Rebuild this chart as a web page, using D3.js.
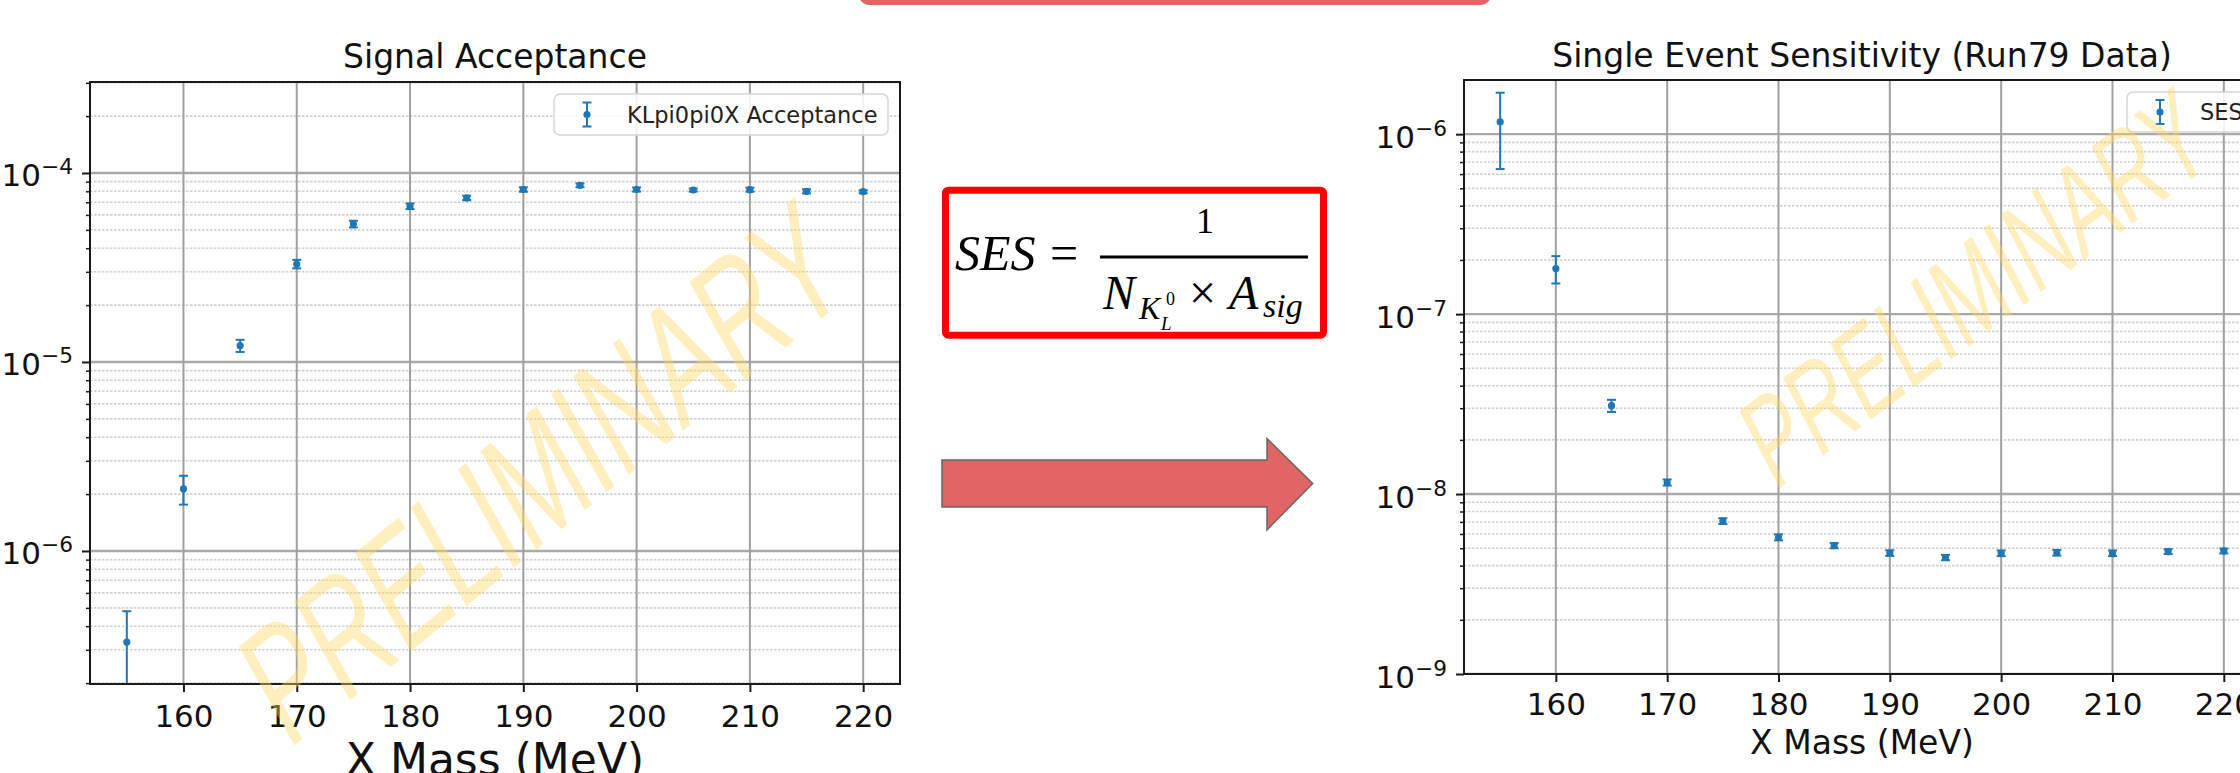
<!DOCTYPE html>
<html>
<head>
<meta charset="utf-8">
<script src="https://cdn.jsdelivr.net/npm/d3@7"></script>
<style>
  html, body { margin: 0; padding: 0; background: #ffffff; }
  svg { display: block; }
</style>
</head>
<body>
<svg id="chart" width="2240" height="773"></svg>
<script>
// ---- data -------------------------------------------------------------
const masses = [155, 160, 165, 170, 175, 180, 185, 190, 195, 200, 205, 210, 215, 220];

// KLpi0pi0X signal acceptance and its uncertainty
const acceptance    = [3.3e-7, 2.13e-6, 1.22e-5, 3.30e-5, 5.37e-5, 6.67e-5, 7.38e-5,
                       8.18e-5, 8.61e-5, 8.18e-5, 8.13e-5, 8.16e-5, 8.00e-5, 7.96e-5];
const acceptanceErr = [1.5e-7, 3.7e-7, 9.0e-7, 1.7e-6, 2.2e-6, 2.3e-6, 2.0e-6,
                       2.2e-6, 2.0e-6, 2.0e-6, 1.5e-6, 2.0e-6, 2.0e-6, 1.5e-6];

// single event sensitivity (Run79 data) and its uncertainty
const ses    = [1.17e-6, 1.79e-7, 3.10e-8, 1.16e-8, 7.08e-9, 5.75e-9, 5.17e-9,
                4.70e-9, 4.44e-9, 4.69e-9, 4.72e-9, 4.69e-9, 4.79e-9, 4.83e-9];
const sesErr = [5.3e-7, 3.1e-8, 2.4e-9, 4.5e-10, 2.6e-10, 2.2e-10, 1.7e-10,
                1.7e-10, 1.5e-10, 1.7e-10, 1.7e-10, 1.7e-10, 1.5e-10, 1.5e-10];

const xTickValues   = [160, 170, 180, 190, 200, 210, 220];
const accExponents  = [-6, -5, -4];
const sesExponents  = [-9, -8, -7, -6];

// ---- styling ----------------------------------------------------------
const BLUE = "#1f77b4";
const SANS = "'DejaVu Sans', Verdana, sans-serif";
const SERIF = "'Liberation Serif', 'Times New Roman', serif";
const MINUS = "\u2212";

const svg = d3.select("#chart");

function minorValues(domain) {
  const out = [];
  const lo = Math.floor(Math.log10(domain[0])), hi = Math.ceil(Math.log10(domain[1]));
  for (let e = lo; e <= hi; e++) {
    for (let k = 2; k <= 9; k++) {
      const v = k * Math.pow(10, e);
      if (v > domain[0] && v < domain[1]) out.push(v);
    }
  }
  return out;
}

function drawPanel(p) {
  const x = d3.scaleLinear().domain(p.xDomain).range([p.left, p.right]);
  const y = d3.scaleLog().domain(p.yDomain).range([p.bottom, p.top]);
  const majors = p.exponents.map(e => Math.pow(10, e));
  const minors = minorValues(p.yDomain);

  const g = svg.append("g");
  const clipId = "clip-" + p.id;
  g.append("clipPath").attr("id", clipId)
    .append("rect")
    .attr("x", p.left).attr("y", p.top)
    .attr("width", p.right - p.left).attr("height", p.bottom - p.top);

  g.append("rect")
    .attr("x", p.left).attr("y", p.top)
    .attr("width", p.right - p.left).attr("height", p.bottom - p.top)
    .attr("fill", "#ffffff");

  const grid = g.append("g").attr("clip-path", `url(#${clipId})`);
  // minor horizontal grid (dotted)
  grid.selectAll(".minor").data(minors).join("line")
    .attr("x1", p.left).attr("x2", p.right)
    .attr("y1", d => y(d)).attr("y2", d => y(d))
    .attr("stroke", "#cfcfcf").attr("stroke-width", 1.6)
    .attr("stroke-dasharray", "2.5,1.5");
  // major horizontal grid
  grid.selectAll(".major").data(majors).join("line")
    .attr("x1", p.left).attr("x2", p.right)
    .attr("y1", d => y(d)).attr("y2", d => y(d))
    .attr("stroke", "#a9a9a9").attr("stroke-width", 2.4);
  // vertical grid
  grid.selectAll(".vgrid").data(xTickValues).join("line")
    .attr("x1", d => x(d)).attr("x2", d => x(d))
    .attr("y1", p.top).attr("y2", p.bottom)
    .attr("stroke", "#a0a0a0").attr("stroke-width", 2);

  // error bars and markers
  const pts = g.append("g").attr("clip-path", `url(#${clipId})`);
  const rows = masses.map((m, i) => ({ m, v: p.values[i], e: p.errors[i] }));
  const cap = 4.5;
  const lowY = d => y(Math.max(d.v - d.e, p.yDomain[0] * 0.1));
  const item = pts.selectAll(".pt").data(rows).join("g");
  item.append("line")
    .attr("x1", d => x(d.m)).attr("x2", d => x(d.m))
    .attr("y1", lowY).attr("y2", d => y(d.v + d.e))
    .attr("stroke", BLUE).attr("stroke-width", 2);
  item.append("line")
    .attr("x1", d => x(d.m) - cap).attr("x2", d => x(d.m) + cap)
    .attr("y1", d => y(d.v + d.e)).attr("y2", d => y(d.v + d.e))
    .attr("stroke", BLUE).attr("stroke-width", 2);
  item.append("line")
    .attr("x1", d => x(d.m) - cap).attr("x2", d => x(d.m) + cap)
    .attr("y1", lowY).attr("y2", lowY)
    .attr("stroke", BLUE).attr("stroke-width", 2);
  item.append("circle")
    .attr("cx", d => x(d.m)).attr("cy", d => y(d.v)).attr("r", 3.6)
    .attr("fill", BLUE);

  // spines
  g.append("rect")
    .attr("x", p.left).attr("y", p.top)
    .attr("width", p.right - p.left).attr("height", p.bottom - p.top)
    .attr("fill", "none").attr("stroke", "#1a1a1a").attr("stroke-width", 2);

  // x axis
  const xAxis = g.append("g").attr("transform", `translate(0,${p.bottom})`)
    .call(d3.axisBottom(x).tickValues(xTickValues).tickSize(8).tickFormat(d3.format("d")));
  xAxis.select(".domain").remove();
  xAxis.selectAll(".tick line").attr("stroke", "#1a1a1a").attr("stroke-width", 2);
  xAxis.selectAll(".tick text")
    .attr("y", p.xLabelBaseline).attr("dy", null)
    .attr("fill", "#111").attr("font-family", SANS).attr("font-size", p.tickFont);

  // y axis: minor ticks
  const yMinor = g.append("g").attr("transform", `translate(${p.left},0)`)
    .call(d3.axisLeft(y).tickValues(minors).tickSize(4).tickFormat(() => ""));
  yMinor.select(".domain").remove();
  yMinor.selectAll(".tick line").attr("stroke", "#1a1a1a").attr("stroke-width", 1.5);

  // y axis: decade ticks with 10^n labels
  const yAxis = g.append("g").attr("transform", `translate(${p.left},0)`)
    .call(d3.axisLeft(y).tickValues(majors).tickSize(8).tickFormat(() => ""));
  yAxis.select(".domain").remove();
  yAxis.selectAll(".tick line").attr("stroke", "#1a1a1a").attr("stroke-width", 2);
  yAxis.selectAll(".tick text").remove();
  yAxis.selectAll(".tick").each(function (d) {
    const t = d3.select(this).append("text")
      .attr("x", -17).attr("y", 13)
      .attr("text-anchor", "end")
      .attr("fill", "#111")
      .attr("font-family", SANS).attr("font-size", p.tickFont);
    t.append("tspan").text("10");
    t.append("tspan").attr("dy", -12).attr("font-size", p.tickFont * 0.7)
      .text(MINUS + Math.abs(Math.round(Math.log10(d))));
  });

  // title
  g.append("text")
    .attr("x", (p.left + p.right) / 2).attr("y", p.titleBaseline)
    .attr("text-anchor", "middle").attr("fill", "#111")
    .attr("font-family", SANS).attr("font-size", 33)
    .text(p.title);

  // x label
  g.append("text")
    .attr("x", (p.left + p.right) / 2).attr("y", p.xTitleBaseline)
    .attr("text-anchor", "middle").attr("fill", "#111")
    .attr("font-family", SANS).attr("font-size", p.xTitleFont)
    .text("X Mass (MeV)");

  // legend
  const lg = g.append("g");
  lg.append("rect")
    .attr("x", p.legend.x).attr("y", p.legend.y)
    .attr("width", p.legend.w).attr("height", p.legend.h)
    .attr("rx", 6).attr("fill", "#ffffff").attr("fill-opacity", 0.85)
    .attr("stroke", "#d6d6d6").attr("stroke-width", 1.5);
  const hx = p.legend.x + 33, hy = p.legend.y + p.legend.h / 2;
  lg.append("line").attr("x1", hx).attr("x2", hx).attr("y1", hy - 12).attr("y2", hy + 12)
    .attr("stroke", BLUE).attr("stroke-width", 2);
  [hy - 12, hy + 12].forEach(cy => {
    lg.append("line").attr("x1", hx - cap).attr("x2", hx + cap).attr("y1", cy).attr("y2", cy)
      .attr("stroke", BLUE).attr("stroke-width", 2);
  });
  lg.append("circle").attr("cx", hx).attr("cy", hy).attr("r", 3.6).attr("fill", BLUE);
  lg.append("text")
    .attr("x", hx + 40).attr("y", hy + 8)
    .attr("fill", "#222").attr("font-family", SANS).attr("font-size", 22.5)
    .text(p.legend.label);
}

// ---- slide banner (top) ---------------------------------------------
svg.append("rect")
  .attr("x", 858).attr("y", -40).attr("width", 634).attr("height", 45)
  .attr("rx", 12).attr("fill", "#e06666");

// ---- left panel: signal acceptance -----------------------------------
drawPanel({
  id: "acc",
  left: 90, right: 900, top: 82, bottom: 684,
  xDomain: [151.75, 223.25], yDomain: [1.978e-7, 3.03e-4],
  exponents: accExponents,
  values: acceptance, errors: acceptanceErr,
  title: "Signal Acceptance", titleBaseline: 68,
  tickFont: 31, xLabelBaseline: 43,
  xTitleFont: 44, xTitleBaseline: 775,
  legend: { x: 554, y: 94, w: 334, h: 41, label: "KLpi0pi0X Acceptance" }
});

// ---- right panel: single event sensitivity ---------------------------
drawPanel({
  id: "ses",
  left: 1464, right: 2260, top: 80, bottom: 674,
  xDomain: [151.75, 223.25], yDomain: [1e-9, 2e-6],
  exponents: sesExponents,
  values: ses, errors: sesErr,
  title: "Single Event Sensitivity (Run79 Data)", titleBaseline: 67,
  tickFont: 31, xLabelBaseline: 41,
  xTitleFont: 33, xTitleBaseline: 754,
  legend: { x: 2127, y: 92, w: 126, h: 40, label: "SES" }
});

// ---- formula box ------------------------------------------------------
const fx = svg.append("g");
fx.append("rect")
  .attr("x", 945.5).attr("y", 190.2).attr("width", 378).attr("height", 145)
  .attr("rx", 3).attr("fill", "#ffffff")
  .attr("stroke", "#ff0000").attr("stroke-width", 7);
function ftext(x, y, size, italic, str, anchor) {
  fx.append("text").attr("x", x).attr("y", y)
    .attr("font-family", SERIF).attr("font-size", size)
    .attr("font-style", italic ? "italic" : "normal")
    .attr("text-anchor", anchor || "start")
    .attr("fill", "#000").text(str);
}
ftext(955, 270, 50, true, "SES");
ftext(1050, 270, 50, false, "=");
fx.append("line").attr("x1", 1100).attr("x2", 1308).attr("y1", 257).attr("y2", 257)
  .attr("stroke", "#000").attr("stroke-width", 2.8);
ftext(1205, 233, 36, false, "1", "middle");
ftext(1103, 309, 48, true, "N");
ftext(1139, 319, 32, true, "K");
ftext(1166, 305, 18, false, "0");
ftext(1161, 330, 19, true, "L");
ftext(1189, 309, 48, false, "\u00d7");
ftext(1229, 309, 48, true, "A");
ftext(1263, 317, 34, true, "sig");

// ---- arrow -------------------------------------------------------------
svg.append("path")
  .attr("d", "M942,460 L1267,460 L1267,438.6 L1312.7,483.5 L1267,529.8 L1267,507 L942,507 Z")
  .attr("fill", "#e06666").attr("stroke", "#666666").attr("stroke-width", 1.5);

// ---- PRELIMINARY watermarks (tall, condensed lettering) ---------------
function watermark(cx, cy, size, angle) {
  svg.append("text")
    .attr("transform", `translate(${cx},${cy}) scale(1,1.2) rotate(${-angle}) scale(0.7,1)`)
    .attr("text-anchor", "middle").attr("dominant-baseline", "central")
    .attr("font-family", "'Liberation Sans', Arial, sans-serif")
    .attr("font-size", size)
    .attr("fill", "#ffd966").attr("fill-opacity", 0.42)
    .text("PRELIMINARY");
}
watermark(542, 472, 144, 34);
watermark(1975, 288, 110, 32);
</script>
</body>
</html>
